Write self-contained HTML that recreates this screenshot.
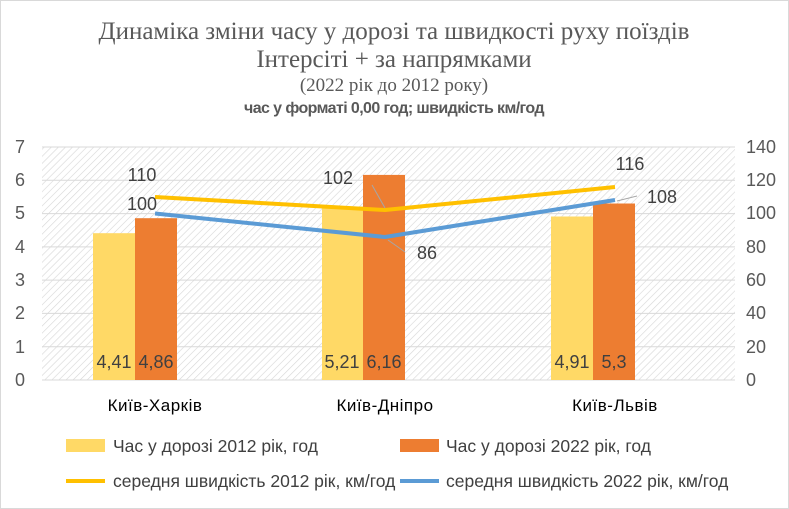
<html><body style="margin:0;background:#fff;width:789px;height:509px;overflow:hidden;font-family:'Liberation Sans',sans-serif">
<svg width="789" height="509" xmlns="http://www.w3.org/2000/svg">
<defs><pattern id="h" width="5" height="5" patternUnits="userSpaceOnUse" patternTransform="rotate(45)"><rect width="5" height="5" fill="#fff"/><line x1="0" y1="0" x2="0" y2="5" stroke="#d6d6d6" stroke-width="1.2"/></pattern></defs>
<rect x="0.5" y="0.5" width="788" height="508" fill="#fff" stroke="#d9d9d9"/>
<g font-family="Liberation Serif,serif" fill="#595959" text-anchor="middle">
<text x="394" y="39" font-size="25">Динаміка зміни часу у дорозі та швидкості руху поїздів</text>
<text x="394" y="67" font-size="25">Інтерсіті + за напрямками</text>
<text x="394" y="91" font-size="19">(2022 рік до 2012 року)</text>
</g>
<text x="394" y="113" font-size="16" font-weight="bold" fill="#595959" text-anchor="middle" letter-spacing="-0.6">час у форматі 0,00 год; швидкість км/год</text>
<rect x="42" y="147" width="693" height="233" fill="url(#h)"/>
<g stroke="#d9d9d9" stroke-width="1">
<line x1="42" x2="735" y1="147" y2="147"/><line x1="42" x2="735" y1="180.3" y2="180.3"/><line x1="42" x2="735" y1="213.6" y2="213.6"/><line x1="42" x2="735" y1="246.9" y2="246.9"/><line x1="42" x2="735" y1="280.1" y2="280.1"/><line x1="42" x2="735" y1="313.4" y2="313.4"/><line x1="42" x2="735" y1="346.7" y2="346.7"/><line x1="42" x2="735" y1="380" y2="380"/></g>
<g font-size="18" fill="#595959">
<g text-anchor="end"><text x="25" y="153">7</text><text x="25" y="186">6</text><text x="25" y="219">5</text><text x="25" y="253">4</text><text x="25" y="286">3</text><text x="25" y="319">2</text><text x="25" y="353">1</text><text x="25" y="386">0</text></g>
<g><text x="746" y="153">140</text><text x="746" y="186">120</text><text x="746" y="219">100</text><text x="746" y="253">80</text><text x="746" y="286">60</text><text x="746" y="319">40</text><text x="746" y="353">20</text><text x="746" y="386">0</text></g>
</g>
<g fill="#ffd966"><rect x="93" y="233.2" width="42" height="146.8"/><rect x="322" y="206.5" width="41" height="173.5"/><rect x="551" y="216.5" width="42" height="163.5"/></g>
<g fill="#ed7d31"><rect x="135" y="218.2" width="42" height="161.8"/><rect x="363" y="174.9" width="42" height="205.1"/><rect x="593" y="203.5" width="42" height="176.5"/></g>
<g font-size="18" fill="#404040" text-anchor="middle">
<text x="114" y="368">4,41</text><text x="156" y="368">4,86</text><text x="342" y="368">5,21</text><text x="384" y="368">6,16</text><text x="572" y="368">4,91</text><text x="614" y="368">5,3</text></g>
<polyline points="155,197 385,210 615,187" fill="none" stroke="#ffc000" stroke-width="4" stroke-linejoin="round"/>
<polyline points="155,213.5 385,237 615,200" fill="none" stroke="#5b9bd5" stroke-width="4" stroke-linejoin="round"/>
<line x1="372" y1="185" x2="385" y2="208" stroke="#a6a6a6"/>
<line x1="388" y1="240" x2="405" y2="252" stroke="#a6a6a6"/>
<line x1="617" y1="201" x2="637" y2="196" stroke="#a6a6a6"/>
<g font-size="18" fill="#404040" text-anchor="middle">
<text x="142" y="181">110</text><text x="142" y="210">100</text><text x="338" y="184">102</text><text x="427" y="259">86</text><text x="630" y="170">116</text><text x="662" y="203">108</text></g>
<g font-size="17" fill="#000" text-anchor="middle" letter-spacing="0.5"><text x="155" y="411">Київ-Харків</text><text x="385" y="411">Київ-Дніпро</text><text x="615" y="411">Київ-Львів</text></g>
<rect x="66" y="439" width="39" height="13" fill="#ffd966"/>
<rect x="400" y="439" width="39" height="13" fill="#ed7d31"/>
<line x1="66" y1="481" x2="105" y2="481" stroke="#ffc000" stroke-width="4"/>
<line x1="400" y1="481" x2="439" y2="481" stroke="#5b9bd5" stroke-width="4"/>
<g font-size="17.5" fill="#404040"><text x="113" y="452">Час у дорозі 2012 рік, год</text><text x="446" y="452">Час у дорозі 2022 рік, год</text><text x="113" y="487">середня швидкість 2012 рік, км/год</text><text x="446" y="487">середня швидкість 2022 рік, км/год</text></g>
</svg></body></html>
